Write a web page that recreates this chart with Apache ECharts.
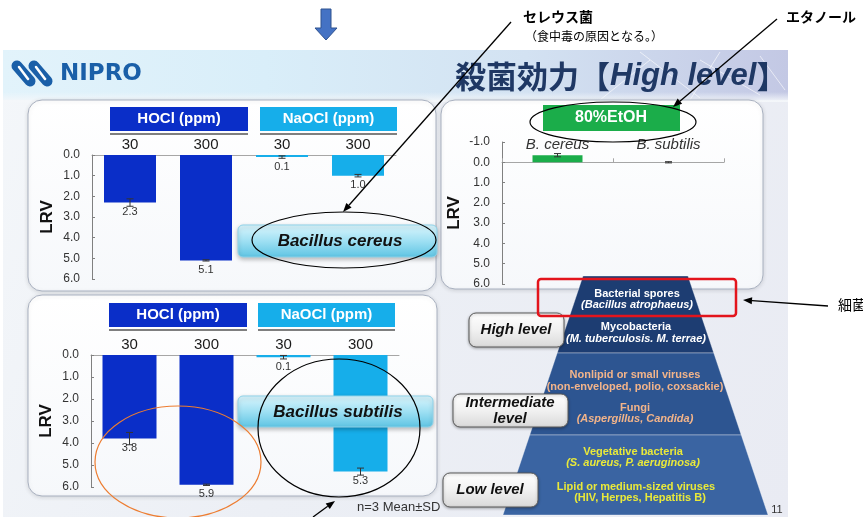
<!DOCTYPE html>
<html>
<head>
<meta charset="utf-8">
<script src="https://cdn.jsdelivr.net/npm/echarts@6/dist/echarts.min.js"></script>
<style>
  html, body { margin: 0; padding: 0; background: #ffffff; }
  #chart { width: 863px; height: 517px; }
</style>
</head>
<body>
<div id="chart"></div>
<script>
// ---- data ----
const concLabels = ['30', '300', '30', '300'];
const agentNames = ['HOCl (ppm)', 'NaOCl (ppm)'];
const cereusLRV = [2.3, 5.1, 0.1, 1.0];
const cereusSD = [0.18, 0.03, 0.06, 0.06];
const subtilisLRV = [3.8, 5.9, 0.1, 5.3];
const subtilisSD = [0.28, 0.03, 0.08, 0.16];
const etohSpecies = ['B. cereus', 'B. subtilis'];
const etohLRV = [-0.35, 0.0];
const etohSD = [0.08, 0.03];
const lrvMin = 0, lrvMax = 6, lrvStep = 1, etohMin = -1;

// ---- fonts & colours ----
const SANS = '"Liberation Sans", Arial, sans-serif';
const CJK = '"Noto Sans CJK JP", sans-serif';
const HOCL = '#0a2ec8';
const NAOCL = '#16aeea';
const ETOH = '#1bad4a';
const LG = (x, y, x2, y2, stops) =>
  new echarts.graphic.LinearGradient(x, y, x2, y2, stops.map((c, i) => ({ offset: i / (stops.length - 1), color: c })));

// ---- decorative slide elements ----
const G = [];
function rect(x, y, w, h, style, r, z) {
  G.push({ type: 'rect', silent: true, z: z === undefined ? -5 : z, shape: { x, y, width: w, height: h, r: r || 0 }, style });
}
function text(x, y, str, font, fill, align, z, extra) {
  G.push({ type: 'text', silent: true, x, y, z: z === undefined ? 10 : z,
    style: Object.assign({ text: str, font, fill, textAlign: align || 'center', textVerticalAlign: 'middle', verticalAlign: 'middle' }, extra || {}) });
}
function ellipse(cx, cy, rx, ry, color, z) {
  G.push({ type: 'ellipse', silent: true, z: z || 20, shape: { cx, cy, rx, ry }, style: { fill: 'none', stroke: color, lineWidth: 1.2 } });
}
function arrow(x1, y1, x2, y2, z) {
  const a = Math.atan2(y2 - y1, x2 - x1), L = 9, W = 3.5;
  const bx = x2 - L * Math.cos(a), by = y2 - L * Math.sin(a);
  G.push({ type: 'line', silent: true, z: z || 30, shape: { x1, y1, x2: bx, y2: by }, style: { stroke: '#000', lineWidth: 1.3 } });
  G.push({ type: 'polygon', silent: true, z: z || 30, shape: { points: [
    [x2, y2], [bx + W * Math.sin(a), by - W * Math.cos(a)], [bx - W * Math.sin(a), by + W * Math.cos(a)]] },
    style: { fill: '#000' } });
}

// slide body and header band
rect(3, 50, 785, 467, { fill: LG(0, 0, 1, 1, ['#f4f7fa', '#eceff5', '#e9ebf3']) }, 0, -20);
rect(3, 50, 785, 50, { fill: LG(0, 0, 1, 0, ['#e2f3fb', '#d9eef9', '#d3e2f2', '#c3c8e4']) }, 0, -19);
rect(3, 92, 785, 10, { fill: LG(0, 0, 0, 1, ['rgba(244,247,250,0)', 'rgba(244,247,250,1)']) }, 0, -18);
// faint network lines in the header
[[640, 52, 700, 98], [700, 60, 760, 95], [720, 52, 690, 100], [760, 56, 785, 90], [600, 100, 650, 60]].forEach(p =>
  G.push({ type: 'line', silent: true, z: -17, shape: { x1: p[0], y1: p[1], x2: p[2], y2: p[3] }, style: { stroke: 'rgba(255,255,255,0.6)', lineWidth: 1 } }));

// logo
[0, 17].forEach(dx => {
  G.push({ type: 'line', silent: true, z: -10, shape: { x1: 17 + dx, y1: 66, x2: 30 + dx, y2: 81 }, style: { stroke: '#1a5fa8', lineWidth: 11, lineCap: 'round' } });
  G.push({ type: 'line', silent: true, z: -9, shape: { x1: 19 + dx, y1: 67, x2: 28 + dx, y2: 79 }, style: { stroke: '#ffffff', lineWidth: 2.5, lineCap: 'round' } });
});
text(60, 74, 'NIPRO', 'bold 23px "DejaVu Sans", sans-serif', '#1a5fa8', 'left', -9);

// title
G.push({ type: 'text', silent: true, x: 455, y: 76, z: -8, style: {
  text: '{c|殺菌効力【}{e|High level}{c|】}', textVerticalAlign: 'middle', verticalAlign: 'middle',
  rich: {
    c: { font: 'bold 31px ' + CJK, fill: '#1f3864' },
    e: { font: 'italic bold 31px ' + SANS, fill: '#1f3864' }
  } } });

// down arrow at top
G.push({ type: 'polygon', silent: true, z: 5, shape: { points: [[321, 9], [331, 9], [331, 28], [337, 28], [326, 40], [315, 28], [321, 28]] },
  style: { fill: '#4472c4', stroke: '#2f528f', lineWidth: 1 } });

// panels
const panelStyle = { fill: LG(0, 0, 0, 1, ['#ffffff', '#f6f8fb']), stroke: '#a9b1c0', lineWidth: 1, shadowBlur: 4, shadowColor: 'rgba(0,0,0,0.12)', shadowOffsetY: 1 };
rect(28, 100, 408, 191, panelStyle, 14, -6);
rect(28, 295, 409, 201, panelStyle, 14, -6);
rect(441, 100, 322, 189, panelStyle, 14, -6);

// agent header boxes
function agentHeader(x, y, w, name, color) {
  rect(x, y, w, 24, { fill: color }, 0, -4);
  G.push({ type: 'line', silent: true, z: -4, shape: { x1: x, y1: y + 27, x2: x + w, y2: y + 27 }, style: { stroke: '#7f7f7f', lineWidth: 2 } });
  text(x + w / 2, y + 12, name, 'bold 15px ' + SANS, '#ffffff', 'center', -3);
}
agentHeader(110, 107, 138, agentNames[0], HOCL);
agentHeader(260, 107, 137, agentNames[1], NAOCL);
agentHeader(109, 303, 138, agentNames[0], HOCL);
agentHeader(258, 303, 137, agentNames[1], NAOCL);

rect(543, 105, 137, 26, { fill: ETOH }, 0, -4);
text(611, 118, '80%EtOH', 'bold 16px ' + SANS, '#ffffff', 'center', -3);

// organism buttons
const btnStyle = { fill: LG(0, 0, 0, 1, ['#dcf6fd', '#9fe0f3', '#5ec4e3']), stroke: '#8fd3ea', lineWidth: 1, shadowBlur: 4, shadowColor: 'rgba(0,0,0,0.25)', shadowOffsetY: 2 };
rect(238, 225, 199, 32, btnStyle, 5, 8);
text(340, 241, 'Bacillus cereus', 'italic bold 17px ' + SANS, '#111111', 'center', 9);
rect(238, 396, 195, 31, btnStyle, 5, 8);
text(338, 412, 'Bacillus subtilis', 'italic bold 17px ' + SANS, '#111111', 'center', 9);

// pyramid of disinfectant levels
const xl = y => 583 - 0.335 * (y - 276);
const xr = y => 688 + 0.335 * (y - 276);
[[276, 353, '#1d3d72'], [353, 435, '#2d5591'], [435, 515, '#3a64a2']].forEach(b => {
  G.push({ type: 'polygon', silent: true, z: 12, shape: { points: [[xl(b[0]), b[0]], [xr(b[0]), b[0]], [xr(b[1]), b[1]], [xl(b[1]), b[1]]] },
    style: { fill: b[2], stroke: 'rgba(255,255,255,0.35)', lineWidth: 1 } });
});
const PB = 'bold 11px ' + SANS, PI = 'italic bold 11px ' + SANS;
text(637, 294, 'Bacterial spores', PB, '#ffffff', 'center', 13);
text(637, 305, '(Bacillus atrophaeus)', PI, '#ffffff', 'center', 13);
text(636, 327, 'Mycobacteria', PB, '#ffffff', 'center', 13);
text(636, 339, '(M. tuberculosis. M. terrae)', PI, '#ffffff', 'center', 13);
text(635, 375, 'Nonlipid or small viruses', PB, '#f2b48a', 'center', 13);
text(635, 387, '(non-enveloped, polio, coxsackie)', PB, '#f2b48a', 'center', 13);
text(635, 408, 'Fungi', PB, '#f2b48a', 'center', 13);
text(635, 419, '(Aspergillus, Candida)', PI, '#f2b48a', 'center', 13);
text(633, 452, 'Vegetative bacteria', PB, '#e9e93a', 'center', 13);
text(633, 463, '(S. aureus, P. aeruginosa)', PI, '#e9e93a', 'center', 13);
text(636, 487, 'Lipid or medium-sized viruses', PB, '#e9e93a', 'center', 13);
text(640, 498, '(HIV, Herpes, Hepatitis B)', PB, '#e9e93a', 'center', 13);
text(777, 510, '11', '11px ' + SANS, '#333333', 'center', 13);

// level boxes
const lvlStyle = { fill: LG(0, 0, 0, 1, ['#ffffff', '#f1f1f1', '#d9d9d9']), stroke: '#5a5a5a', lineWidth: 1, shadowBlur: 3, shadowColor: 'rgba(0,0,0,0.3)', shadowOffsetY: 1 };
rect(469, 313, 95, 34, lvlStyle, 7, 14);
text(516, 330, 'High level', 'italic bold 15px ' + SANS, '#111111', 'center', 15);
rect(453, 394, 115, 33, lvlStyle, 7, 14);
text(510, 403, 'Intermediate', 'italic bold 15px ' + SANS, '#111111', 'center', 15);
text(510, 419, 'level', 'italic bold 15px ' + SANS, '#111111', 'center', 15);
rect(443, 473, 95, 34, lvlStyle, 7, 14);
text(490, 490, 'Low level', 'italic bold 15px ' + SANS, '#111111', 'center', 15);

// highlight frame on the top tier
rect(538, 279, 198, 37, { fill: 'none', stroke: '#e3141c', lineWidth: 2.5 }, 3, 16);

// emphasis ellipses
ellipse(344, 240, 92, 28, '#000000');
ellipse(339, 428, 81, 69, '#000000');
ellipse(178, 462, 83, 56, '#ed7d31');
ellipse(613, 122, 83, 20, '#000000');

// callouts
text(523, 17, 'セレウス菌', 'bold 14px ' + CJK, '#000000', 'left', 30);
text(525, 36, '（食中毒の原因となる。）', '12px ' + CJK, '#000000', 'left', 30);
text(786, 17, 'エタノール', 'bold 14px ' + CJK, '#000000', 'left', 30);
text(838, 305, '細菌', '14px ' + CJK, '#000000', 'left', 30);
arrow(511, 22, 343, 212);
arrow(777, 19, 673, 107);
arrow(313, 517, 335, 501);
arrow(828, 306, 743, 300);
text(357, 507, 'n=3 Mean±SD', '13px ' + SANS, '#333333', 'left', 30);

// ---- axes ----
function yAxis(gridIndex, min, nameGap) {
  return {
    type: 'value', gridIndex, inverse: true, min, max: lrvMax, interval: lrvStep,
    name: 'LRV', nameLocation: 'middle', nameGap, nameRotate: 90,
    nameTextStyle: { fontFamily: SANS, fontWeight: 'bold', fontSize: 17, color: '#111111' },
    axisLine: { show: true, lineStyle: { color: '#808080', width: 1 } },
    axisTick: { show: true, inside: true, length: 3, lineStyle: { color: '#808080' } },
    axisLabel: { fontFamily: SANS, fontSize: 12, color: '#333333', margin: 12, formatter: v => v.toFixed(1) },
    splitLine: { show: false }
  };
}
function xAxis(gridIndex, data, extra) {
  return Object.assign({
    type: 'category', gridIndex, data, position: 'top',
    axisLine: { show: true, onZero: true, lineStyle: { color: '#a6a6a6', width: 1 } },
    axisTick: { show: false },
    axisLabel: { fontFamily: SANS, fontSize: 15, color: '#1a1a1a', margin: 3 }
  }, extra || {});
}

// ---- series ----
const barColor = p => (p.dataIndex < 2 ? HOCL : NAOCL);
function bars(axisIndex, values, width, colorFn, withLabels) {
  return {
    type: 'bar', xAxisIndex: axisIndex, yAxisIndex: axisIndex, data: values, barWidth: width, z: 2,
    itemStyle: { color: colorFn },
    label: { show: withLabels, position: 'bottom', distance: 4, fontFamily: SANS, fontSize: 11, color: '#333333', formatter: p => p.value.toFixed(1) }
  };
}
function errorBars(axisIndex, values, sds) {
  return {
    type: 'custom', xAxisIndex: axisIndex, yAxisIndex: axisIndex, z: 4, silent: true,
    data: values.map((v, i) => [i, v, sds[i]]),
    encode: { x: 0, y: 1 },
    renderItem: (params, api) => {
      const i = api.value(0), v = api.value(1), s = api.value(2);
      const a = api.coord([i, v - s]), b = api.coord([i, v + s]);
      const cx = a[0], w = 3.5, st = { stroke: '#333333', lineWidth: 1 };
      return { type: 'group', children: [
        { type: 'line', shape: { x1: cx, y1: a[1], x2: cx, y2: b[1] }, style: st },
        { type: 'line', shape: { x1: cx - w, y1: a[1], x2: cx + w, y2: a[1] }, style: st },
        { type: 'line', shape: { x1: cx - w, y1: b[1], x2: cx + w, y2: b[1] }, style: st }
      ] };
    }
  };
}

const chart = echarts.init(document.getElementById('chart'), null, { renderer: 'canvas' });
chart.setOption({
  animation: false,
  backgroundColor: '#ffffff',
  grid: [
    { left: 92, top: 155, width: 304, height: 124 },
    { left: 91, top: 355, width: 308, height: 132 },
    { left: 502, top: 142, width: 222, height: 142 }
  ],
  xAxis: [
    xAxis(0, concLabels),
    xAxis(1, concLabels),
    xAxis(2, etohSpecies, {
      axisTick: { show: true, length: 4, lineStyle: { color: '#a6a6a6' } },
      axisLabel: { fontFamily: SANS, fontSize: 15, fontStyle: 'italic', color: '#333333', margin: -10 }
    })
  ],
  yAxis: [yAxis(0, lrvMin, 36), yAxis(1, lrvMin, 36), yAxis(2, etohMin, 39)],
  series: [
    bars(0, cereusLRV, 52, barColor, true),
    errorBars(0, cereusLRV, cereusSD),
    bars(1, subtilisLRV, 54, barColor, true),
    errorBars(1, subtilisLRV, subtilisSD),
    bars(2, etohLRV, 50, ETOH, false),
    errorBars(2, etohLRV, etohSD)
  ],
  graphic: { elements: G }
});
</script>
</body>
</html>
